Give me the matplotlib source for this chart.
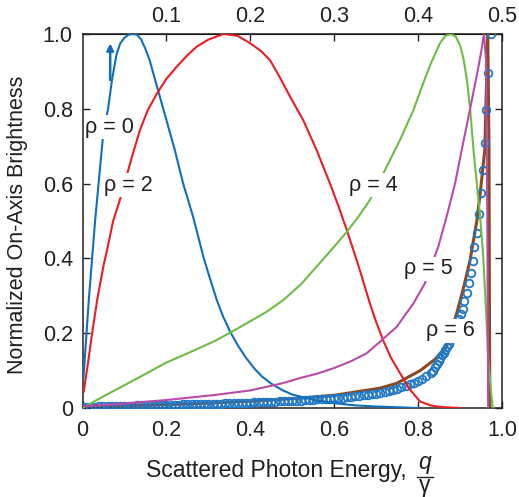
import matplotlib
matplotlib.use("Agg")
import matplotlib.pyplot as plt

plt.rcParams['font.family'] = ['Liberation Sans', 'DejaVu Sans']
TXT = '#231f20'

# ---------------- data ----------------
x_rho0 = [0.002, 0.015, 0.03, 0.05, 0.061, 0.07, 0.081, 0.09, 0.10, 0.11, 0.121, 0.13, 0.14,
          0.15, 0.16, 0.17, 0.185, 0.20, 0.22, 0.24, 0.264, 0.288, 0.30, 0.32, 0.335, 0.352,
          0.37, 0.388, 0.41, 0.428, 0.45, 0.476, 0.50, 0.55, 0.60, 0.65, 0.70, 0.75, 0.80]
y_rho0 = [0.075, 0.289, 0.50, 0.74, 0.80, 0.875, 0.945, 0.975, 0.99, 0.998, 1.0, 0.998, 0.985,
          0.96, 0.93, 0.89, 0.83, 0.77, 0.69, 0.60, 0.51, 0.405, 0.36, 0.289, 0.245, 0.204,
          0.168, 0.137, 0.105, 0.084, 0.065, 0.048, 0.036, 0.022, 0.013, 0.007, 0.004, 0.002, 0.0]

x_rho2 = [0.003, 0.013, 0.023, 0.035, 0.05, 0.06, 0.073, 0.089, 0.109, 0.12, 0.137, 0.155,
          0.177, 0.20, 0.225, 0.25, 0.272, 0.30, 0.336, 0.37, 0.40, 0.425, 0.447, 0.47,
          0.495, 0.526, 0.558, 0.59, 0.61, 0.63, 0.645, 0.661, 0.685, 0.70, 0.717, 0.735,
          0.757, 0.78, 0.805, 0.83, 0.85, 0.90]
y_rho2 = [0.044, 0.12, 0.20, 0.289, 0.38, 0.43, 0.50, 0.556, 0.636, 0.68, 0.743, 0.795,
          0.84, 0.88, 0.913, 0.943, 0.966, 0.985, 1.0, 0.995, 0.975, 0.955, 0.93, 0.885,
          0.832, 0.77, 0.69, 0.60, 0.54, 0.476, 0.425, 0.369, 0.28, 0.23, 0.18, 0.135,
          0.093, 0.05, 0.017, 0.007, 0.003, 0.0]

x_rho4 = [0.0, 0.04, 0.078, 0.12, 0.16, 0.197, 0.25, 0.317, 0.356, 0.40, 0.44, 0.479, 0.52,
          0.558, 0.595, 0.63, 0.66, 0.685, 0.721, 0.757, 0.789, 0.812, 0.83, 0.852, 0.865,
          0.878, 0.89, 0.90, 0.908, 0.916, 0.924, 0.932, 0.94, 0.948, 0.955, 0.962, 0.968,
          0.975, 0.978]
y_rho4 = [0.0, 0.025, 0.048, 0.073, 0.097, 0.12, 0.146, 0.18, 0.204, 0.232, 0.258, 0.289, 0.33,
          0.378, 0.425, 0.471, 0.515, 0.556, 0.636, 0.717, 0.797, 0.868, 0.92, 0.975, 0.995,
          1.0, 0.993, 0.97, 0.935, 0.88, 0.80, 0.69, 0.60, 0.51, 0.41, 0.26, 0.12,
          0.03, 0.0]

x_rho5 = [0.0, 0.05, 0.10, 0.197, 0.317, 0.40, 0.476, 0.518, 0.56, 0.60, 0.64, 0.677, 0.709,
          0.749, 0.789, 0.816, 0.848, 0.868, 0.888, 0.904, 0.924, 0.94, 0.95, 0.957, 0.962,
          0.965, 0.967]
y_rho5 = [0.005, 0.008, 0.012, 0.021, 0.035, 0.047, 0.066, 0.08, 0.092, 0.107, 0.125, 0.146, 0.177,
          0.217, 0.28, 0.333, 0.431, 0.512, 0.60, 0.69, 0.80, 0.89, 0.95, 1.0, 0.93,
          0.50, 0.0]

x_rho6 = [0.0, 0.10, 0.20, 0.30, 0.40, 0.50, 0.60, 0.709, 0.749, 0.805, 0.84, 0.868, 0.892,
          0.908, 0.924, 0.94, 0.948, 0.959, 0.966, 0.969, 0.970, 0.971]
y_rho6 = [0.004, 0.006, 0.009, 0.013, 0.018, 0.025, 0.034, 0.053, 0.066, 0.10, 0.13, 0.164, 0.253,
          0.32, 0.396, 0.50, 0.574, 0.69, 1.0, 0.70, 0.30, 0.0]

# simulation points (circles)
x_sim = [0.00, 0.01, 0.02, 0.03, 0.04, 0.05, 0.06, 0.07, 0.08, 0.09,
         0.10, 0.11, 0.12, 0.13, 0.14, 0.15, 0.16, 0.17, 0.18, 0.19,
         0.20, 0.21, 0.22, 0.23, 0.24, 0.25, 0.26, 0.27, 0.28, 0.29,
         0.30, 0.31, 0.32, 0.33, 0.34, 0.35, 0.36, 0.37, 0.38, 0.39,
         0.40, 0.41, 0.42, 0.43, 0.44, 0.45, 0.46, 0.47, 0.48, 0.49,
         0.50, 0.51, 0.52, 0.53, 0.54, 0.55, 0.56, 0.57, 0.58, 0.59,
         0.60, 0.61, 0.62, 0.63, 0.64, 0.65, 0.66, 0.67, 0.68, 0.69,
         0.70, 0.71, 0.72, 0.73, 0.74, 0.75, 0.76, 0.77, 0.78, 0.79,
         0.80, 0.81, 0.82, 0.83, 0.836, 0.841, 0.845, 0.849, 0.853, 0.857,
         0.861, 0.865, 0.869, 0.873, 0.877, 0.881, 0.885, 0.889, 0.893, 0.897,
         0.902, 0.906, 0.910, 0.916, 0.921, 0.925, 0.930, 0.933, 0.940, 0.944,
         0.949, 0.954, 0.959, 0.963, 0.967, 0.974]
y_sim = [0.004, 0.004, 0.004, 0.004, 0.005, 0.005, 0.005, 0.005, 0.006, 0.006,
         0.006, 0.006, 0.006, 0.007, 0.007, 0.007, 0.007, 0.008, 0.008, 0.008,
         0.008, 0.009, 0.009, 0.009, 0.010, 0.010, 0.010, 0.010, 0.011, 0.011,
         0.011, 0.012, 0.012, 0.012, 0.013, 0.013, 0.013, 0.013, 0.014, 0.014,
         0.014, 0.015, 0.015, 0.016, 0.016, 0.017, 0.017, 0.018, 0.018, 0.019,
         0.019, 0.020, 0.020, 0.021, 0.022, 0.022, 0.023, 0.024, 0.025, 0.025,
         0.026, 0.027, 0.028, 0.029, 0.030, 0.031, 0.032, 0.034, 0.035, 0.037,
         0.038, 0.041, 0.043, 0.046, 0.049, 0.052, 0.055, 0.059, 0.063, 0.067,
         0.072, 0.078, 0.085, 0.093, 0.100, 0.110, 0.118, 0.126, 0.134, 0.141,
         0.148, 0.155, 0.163, 0.172, 0.182, 0.191, 0.201, 0.212, 0.224, 0.237,
         0.251, 0.266, 0.286, 0.308, 0.333, 0.362, 0.394, 0.430, 0.469, 0.518,
         0.574, 0.636, 0.709, 0.797, 0.895, 1.0]

x_ticks = [0, 0.2, 0.4, 0.6, 0.8, 1.0]
x_ticklabels = ['0', '0.2', '0.4', '0.6', '0.8', '1.0']
top_ticks = [0.1, 0.2, 0.3, 0.4, 0.5]
top_ticklabels = ['0.1', '0.2', '0.3', '0.4', '0.5']
y_ticks = [0, 0.2, 0.4, 0.6, 0.8, 1.0]
y_ticklabels = ['0', '0.2', '0.4', '0.6', '0.8', '1.0']

labels = ['ρ = 0', 'ρ = 2', 'ρ = 4', 'ρ = 5', 'ρ = 6']
label_x = [0.064, 0.109, 0.694, 0.825, 0.876]
label_y = [0.751, 0.596, 0.596, 0.372, 0.206]

# ---------------- figure ----------------
W, H = 519, 497
fig = plt.figure(figsize=(W / 100, H / 100), dpi=100)
ax = fig.add_axes([82.5 / W, 1 - 408 / H, 419.5 / W, 374 / H])

c_blue = '#0f6fbd'
c_red = '#ec1c24'
c_green = '#6cbd45'
c_mag = '#bb4aa9'
c_brown = '#8a4a22'
c_circ = '#1f78c8'

ax.plot(x_rho6, y_rho6, color=c_brown, lw=2.2, zorder=2)
ax.plot(x_sim, y_sim, linestyle='none', marker='o', ms=5.5, mfc='none', mec=c_circ, mew=1.3, zorder=3)
ax.plot(x_rho0, y_rho0, color=c_blue, lw=1.5, zorder=4)
ax.plot(x_rho2, y_rho2, color=c_red, lw=1.5, zorder=4)
ax.plot(x_rho4, y_rho4, color=c_green, lw=1.5, zorder=4)
ax.plot(x_rho5, y_rho5, color=c_mag, lw=1.5, zorder=4)

ax.annotate('', xy=(0.066, 0.975), xytext=(0.066, 0.877),
            arrowprops=dict(arrowstyle='-|>', color=c_blue, lw=1.8, mutation_scale=10,
                            shrinkA=0, shrinkB=0), zorder=6)

for t, lx, ly in zip(labels, label_x, label_y):
    ax.text(lx, ly, t, ha='center', va='center', fontsize=15.5, color=TXT, zorder=7,
            bbox=dict(facecolor='white', edgecolor='none', pad=1.0))

ax.set_xlim(0, 1.0)
ax.set_ylim(0, 1.0)
ax.set_xticks(x_ticks)
ax.set_xticklabels(x_ticklabels)
ax.set_yticks(y_ticks)
ax.set_yticklabels(y_ticklabels)
ax.tick_params(direction='in', length=5, width=1, labelsize=15.5, colors=TXT, right=True)
ax.tick_params(axis='x', pad=9)
ax.tick_params(axis='y', pad=7)
for s in ax.spines.values():
    s.set_color(TXT)
    s.set_linewidth(1.1)

sec = ax.secondary_xaxis('top', functions=(lambda v: v / 2.0, lambda v: v * 2.0))
sec.set_xticks(top_ticks)
sec.set_xticklabels(top_ticklabels)
sec.tick_params(direction='in', length=5, width=1, labelsize=15.5, colors=TXT, pad=5)

ax.set_ylabel('Normalized On-Axis Brightness', fontsize=15.5, color=TXT,
              verticalalignment='center')
ax.yaxis.set_label_coords(-0.156, 0.49)

fig.text(276.5 / W, 1 - 477 / H, 'Scattered Photon Energy,', ha='center', va='baseline',
         fontsize=16.5, color=TXT)
fig.text(425 / W, 1 - 469 / H, 'q', ha='center', va='baseline', fontsize=16.5,
         color=TXT, style='italic')
fig.text(425 / W, 1 - 492 / H, 'γ', ha='center', va='baseline', fontsize=16.5, color=TXT)
fig.add_artist(plt.Line2D([417 / W, 433 / W], [1 - 477 / H, 1 - 477 / H],
                          color=TXT, lw=1.0, transform=fig.transFigure))

fig.savefig('out.png', dpi=100)
